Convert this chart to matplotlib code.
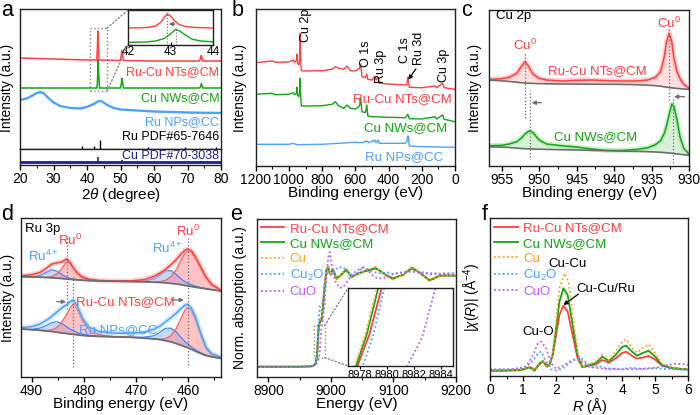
import numpy as np
import matplotlib
matplotlib.use("Agg")
import matplotlib.pyplot as plt
from matplotlib.ticker import MultipleLocator
from matplotlib.patches import Rectangle, ConnectionPatch

plt.rcParams['font.family'] = ['Liberation Sans', 'DejaVu Sans']
plt.rcParams['mathtext.fontset'] = 'custom'
plt.rcParams['mathtext.rm'] = 'Liberation Sans'
plt.rcParams['mathtext.it'] = 'Liberation Sans:italic'
plt.rcParams['mathtext.bf'] = 'Liberation Sans:bold'
plt.rcParams['axes.linewidth'] = 1.0
plt.rcParams['axes.edgecolor'] = '#222222'

RED = '#ff4040'
GREEN = '#14a514'
BLUE = '#4ba3ff'
NAVY = '#1f1f8f'
ORANGE = '#ffa31a'
PURPLE = '#c05cff'
GRAY = '#6e6e6e'
FS = 9.5  # annotation text

# ---------------- a: XRD ----------------
xrd_red_x = [20, 25, 30, 35, 40, 42.9, 43.1, 43.25, 43.4, 43.6, 49.9, 50.2, 50.4, 50.6, 50.9, 60, 73.6, 73.9, 74.1, 74.3, 74.6, 80]
xrd_red_y = [91, 90.5, 90, 89.5, 89, 89, 101, 118, 101, 89, 88.5, 93, 98.5, 93, 88.5, 88, 88, 91, 93.5, 91, 88, 88]
xrd_green_x = [20, 30, 40, 43.0, 43.2, 43.35, 43.5, 43.75, 50.0, 50.3, 50.45, 50.6, 50.9, 60, 73.7, 74.0, 74.15, 74.3, 74.6, 80]
xrd_green_y = [61, 61, 61, 61, 74, 89.5, 74, 61, 61, 67, 70.5, 67, 61, 61, 61, 63.5, 65.5, 63.5, 61, 61]
xrd_blue_x = [20, 22, 24, 25, 26, 27, 28, 30, 32, 35, 38, 40, 42, 43.5, 44.5, 46, 48, 50, 55, 60, 70, 80]
xrd_blue_y = [49, 50.5, 54, 56, 57, 56, 52.5, 46.5, 43, 41, 40.5, 42, 45, 48, 47.5, 44, 41, 39.5, 38.5, 37.5, 36.5, 36]
ru_pdf_pos = [38.4, 42.2, 44.0, 58.3, 69.4, 78.4]
ru_pdf_h = [3, 3, 8.5, 1.5, 1.5, 1.5]
cu_pdf_pos = [43.3, 50.4, 74.1]
cu_pdf_h = [5, 2, 1.5]
cu_pdf_base = 3
ins_red_x = [42.0, 42.3, 42.5, 42.65, 42.78, 42.86, 42.92, 43.0, 43.1, 43.2, 43.35, 43.6, 44.0]
ins_red_y = [17, 17.2, 17.8, 19, 23, 28, 31, 29, 24, 20.5, 18.5, 17.5, 17]
ins_green_x = [42.0, 42.4, 42.65, 42.85, 43.0, 43.12, 43.22, 43.35, 43.5, 43.7, 44.0]
ins_green_y = [2.7, 3, 4, 6.5, 11, 15.7, 14, 10, 6, 4, 3.2]

# ---------------- b: XPS survey ----------------
sv_red_e = [1200, 1100, 1080, 1000, 975, 965, 955, 952, 948, 940, 934, 932, 930, 925, 900, 800, 740, 720, 700, 670, 650, 630,
            600, 575, 568, 560, 540, 531, 525, 500, 484, 475, 462, 455, 400, 300, 290, 284, 280, 275, 200, 120, 110, 75, 65, 0]
sv_red_i = [103.0, 104.7, 103.4, 103.7, 105.7, 103.4, 105.7, 111.7, 102.4, 100.7, 109.0, 132.4, 105.7, 95.0, 94.7, 95.0, 96.4,
            99.0, 97.4, 96.4, 99.7, 95.0, 94.7, 97.4, 101.7, 89.0, 88.0, 91.7, 86.4, 85.7, 89.0, 85.7, 88.4, 82.4, 81.7, 80.7,
            80.7, 88.4, 85.7, 78.4, 78.0, 79.7, 78.0, 82.4, 78.0, 76.4]
sv_green_e = [1200, 1100, 1080, 1000, 975, 965, 955, 952, 948, 940, 934, 932, 930, 925, 900, 800, 740, 720, 700, 670, 650, 630,
              600, 575, 568, 560, 540, 531, 525, 500, 400, 300, 284, 275, 200, 120, 110, 75, 65, 0]
sv_green_i = [71.4, 72.4, 71.0, 71.4, 73.0, 71.0, 72.4, 78.4, 70.7, 69.0, 75.7, 87.4, 72.4, 59.7, 59.7, 60.0, 61.4, 64.0, 59.7,
              57.4, 60.7, 57.4, 56.7, 59.7, 67.4, 54.0, 53.0, 60.7, 49.7, 49.0, 48.4, 48.0, 51.4, 47.0, 46.7, 49.0, 46.7, 50.7,
              46.4, 44.0]
sv_blue_e = [1200, 1000, 975, 950, 800, 700, 600, 560, 531, 520, 484, 475, 462, 455, 300, 290, 284, 280, 275, 200, 0]
sv_blue_i = [21.4, 21.4, 22.4, 21.0, 21.4, 22.4, 23.4, 23.0, 24.7, 23.0, 25.7, 23.0, 25.7, 22.4, 22.4, 24.0, 29.7, 28.4, 19.7,
             19.0, 18.4]

# ---------------- c: Cu 2p ----------------
cu_e = [956.6, 955, 954, 953, 952.4, 951.9, 951.5, 951.2, 950.8, 950, 949, 947, 945, 943, 941, 939, 937, 935.5, 934.5, 933.8,
        933.3, 933.0, 932.65, 932.3, 932.0, 931.6, 931.2, 930.7, 930.0]
cu_red = [86.4, 87.0, 88.4, 92.4, 99.0, 104.0, 100.5, 96.5, 91.5, 87.4, 85.7, 84.7, 85.4, 85.7, 85.0, 84.7, 84.7, 85.7, 88.4,
          94.0, 109.0, 124.0, 132.4, 124.0, 107.4, 94.0, 87.0, 81.5, 77.4]
cu_red_bg = [85.7, 84.9, 84.2, 83.5, 83.0, 82.7, 82.5, 82.4, 82.3, 82.1, 81.9, 81.7, 81.6, 81.5, 81.4, 81.3, 81.0, 80.5, 80.0,
             79.5, 78.9, 78.5, 78.2, 77.9, 77.6, 77.3, 77.0, 76.7, 76.4]
cu_green = [20.0, 20.4, 21.7, 24.0, 27.5, 31.5, 34.0, 35.0, 33.0, 25.7, 21.7, 20.0, 18.7, 16.7, 15.3, 15.2, 16.2, 18.0, 21.0,
            25.0, 32.4, 40.0, 51.0, 61.5, 59.0, 46.0, 29.0, 17.4, 11.7]
cu_green_bg = [19.0, 18.6, 18.2, 17.6, 17.2, 17.0, 16.9, 16.8, 16.7, 16.5, 16.3, 16.0, 15.7, 15.3, 15.0, 14.6, 14.3, 14.0, 13.7,
               13.4, 13.1, 12.9, 12.6, 12.4, 12.1, 11.8, 11.4, 11.0, 10.4]
cu0_red = [951.9, 932.65]
cu0_green = [951.2, 932.2]

# ---------------- d: Ru 3p ----------------
ru_e = [492, 490, 488.5, 487.3, 486.2, 485.2, 484.3, 483.3, 482.6, 482.0, 481.2, 480.2, 479, 477, 474, 471, 468.5, 466.5,
        465.3, 464.3, 463.3, 462.3, 461.4, 460.6, 460.1, 459.4, 458.6, 457.6, 456.6, 455.5, 453.7]
up_data = [101.0, 102.0, 104.0, 108.0, 112.5, 114.0, 114.5, 117.7, 114.0, 109.0, 103.5, 99.5, 97.5, 96.2, 95.8, 95.8, 97.0,
           100.5, 104.0, 107.5, 112.0, 117.0, 122.5, 126.5, 127.7, 126.0, 120.0, 110.0, 100.0, 92.5, 86.5]
up_bg = [100.0, 99.8, 99.5, 99.2, 98.9, 98.6, 98.2, 97.7, 97.4, 97.1, 96.8, 96.4, 96.1, 95.8, 95.5, 95.2, 94.9, 94.5, 94.2,
         93.8, 93.3, 92.7, 92.0, 91.3, 90.8, 90.2, 89.5, 88.7, 87.9, 87.0, 85.7]
up_ru0 = [100.0, 99.8, 99.5, 99.3, 100.0, 102.5, 107.5, 115.5, 113.0, 108.5, 103.0, 99.0, 97.0, 96.0, 95.5, 95.2, 94.9, 94.6,
          95.0, 96.5, 100.0, 107.0, 116.0, 123.5, 126.0, 124.5, 118.5, 108.5, 98.5, 91.5, 86.0]
up_ru4 = [100.0, 100.0, 101.0, 104.0, 107.0, 105.5, 102.5, 99.5, 98.3, 97.6, 97.1, 96.6, 96.2, 95.9, 95.6, 95.3, 95.5, 98.0,
          102.0, 106.0, 106.0, 102.5, 98.0, 95.0, 93.5, 92.0, 90.5, 89.2, 88.2, 87.2, 85.8]
lo_data = [49.0, 50.0, 52.4, 56.0, 60.0, 64.5, 68.5, 72.0, 75.0, 76.7, 70.0, 58.0, 49.5, 45.0, 43.6, 43.4, 44.5, 47.5, 51.0,
           55.0, 59.0, 63.5, 68.0, 71.5, 72.4, 69.0, 60.0, 44.0, 30.0, 23.0, 19.5]
lo_bg = [47.7, 47.0, 46.4, 45.8, 45.2, 44.5, 43.8, 43.2, 42.7, 42.3, 41.8, 41.2, 40.7, 40.2, 39.8, 39.4, 38.6, 37.8, 37.0,
         36.0, 34.8, 33.2, 31.5, 30.0, 29.0, 27.5, 25.5, 23.2, 21.2, 19.8, 18.4]
lo_ru0 = [47.7, 47.0, 46.5, 46.2, 46.8, 49.0, 54.0, 62.0, 69.0, 73.0, 67.0, 55.5, 47.0, 42.0, 40.0, 39.4, 38.6, 37.9, 37.5,
          38.0, 41.0, 48.0, 58.0, 66.5, 69.5, 66.5, 57.5, 42.0, 28.5, 21.5, 18.8]
lo_ru4 = [47.7, 47.5, 48.5, 51.0, 54.0, 55.0, 53.5, 50.0, 47.5, 46.0, 44.0, 42.5, 41.5, 40.6, 40.0, 39.6, 39.5, 41.0, 45.0,
          48.5, 48.5, 45.0, 39.5, 35.0, 33.0, 30.0, 27.0, 24.0, 21.8, 20.2, 18.6]
ru0_up = [483.3, 460.1]
ru0_lo = [482.0, 460.1]

# ---------------- e: XANES ----------------
xa_red_e = [8880, 8950, 8970, 8974, 8976, 8977, 8977.8, 8978.7, 8979.6, 8981, 8983, 8985, 8987.6, 8990.3, 8993, 8995.6, 8998.2,
            9003.6, 9008.9, 9016, 9024.8, 9032.8, 9040.7, 9051.4, 9060, 9071, 9080, 9088.5, 9099.2, 9107, 9115, 9122, 9130,
            9139, 9147, 9157.6, 9165, 9173.5, 9185, 9200]
xa_red_n = [0, 0, 0.005, 0.02, 0.05, 0.08, 0.12, 0.21, 0.34, 0.45, 0.49, 0.51, 0.67, 0.89, 1.05, 1.08, 1.018, 1.055, 0.964,
            1.0, 1.055, 0.982, 1.007, 1.036, 1.05, 1.073, 1.04, 1.0, 0.964, 0.985, 1.0, 1.04, 1.073, 1.04, 1.0, 0.945, 0.965,
            0.993, 0.995, 0.993]
xa_green_e = [8880, 8950, 8970, 8974, 8976, 8976.9, 8977.7, 8978.5, 8979.35, 8980.8, 8982.8, 8985, 8987.5, 8990.2, 8993, 8995.6,
              8998.2, 9003.6, 9008.9, 9016, 9024.8, 9032.8, 9040.7, 9051.4, 9060, 9071, 9080, 9088.5, 9099.2, 9107, 9115, 9122,
              9130, 9139, 9147, 9157.6, 9165, 9173.5, 9185, 9200]
xa_green_n = [0, 0, 0.005, 0.02, 0.05, 0.08, 0.12, 0.21, 0.34, 0.46, 0.5, 0.52, 0.68, 0.9, 1.06, 1.09, 1.015, 1.06, 0.958, 1.0,
              1.06, 0.978, 1.005, 1.038, 1.052, 1.078, 1.04, 0.997, 0.958, 0.982, 1.0, 1.042, 1.078, 1.04, 0.998, 0.94, 0.962,
              0.993, 0.995, 0.993]
xa_cu_e = [8880, 8950, 8970, 8974, 8976, 8976.8, 8977.6, 8978.4, 8979.25, 8980.7, 8982.7, 8985, 8987.4, 8990.1, 8993, 8995.6,
           8998.2, 9003.6, 9008.9, 9016, 9024.8, 9032.8, 9040.7, 9051.4, 9060, 9071, 9080, 9088.5, 9099.2, 9107, 9115, 9122,
           9130, 9139, 9147, 9157.6, 9165, 9173.5, 9185, 9200]
xa_cu_n = [0, 0, 0.005, 0.02, 0.05, 0.08, 0.12, 0.21, 0.34, 0.47, 0.52, 0.54, 0.7, 0.92, 1.07, 1.1, 1.01, 1.07, 0.95, 1.0,
           1.08, 0.97, 1.0, 1.04, 1.06, 1.09, 1.04, 0.99, 0.95, 0.98, 1.0, 1.05, 1.09, 1.04, 0.995, 0.935, 0.96, 0.993, 0.995,
           0.993]
xa_cu2o_e = [8880, 8950, 8970, 8975, 8977, 8978.2, 8979.0, 8979.8, 8981, 8982.5, 8984, 8986, 8988, 8990, 8993, 8996, 9000, 9005,
             9012, 9020, 9028, 9036, 9044, 9051, 9060, 9070, 9080, 9090, 9100, 9115, 9130, 9145, 9160, 9180, 9200]
xa_cu2o_n = [0, 0, 0.005, 0.03, 0.07, 0.12, 0.21, 0.34, 0.55, 0.66, 0.67, 0.68, 0.74, 0.86, 1.0, 1.05, 1.0, 1.03, 1.09, 1.08,
             1.02, 0.99, 1.03, 1.09, 1.06, 1.03, 1.02, 1.03, 1.01, 1.03, 1.04, 1.02, 1.01, 1.02, 1.02]
xa_cuo_e = [8880, 8950, 8970, 8976, 8979, 8981.5, 8982.6, 8983.6, 8985, 8987, 8990, 8993, 8996, 8998, 9000, 9003, 9008, 9014,
            9020, 9026, 9033, 9042, 9050, 9058, 9066, 9075, 9085, 9095, 9105, 9115, 9130, 9145, 9160, 9180, 9200]
xa_cuo_n = [0, 0, 0.005, 0.02, 0.06, 0.12, 0.2, 0.34, 0.42, 0.5, 0.7, 1.0, 1.2, 1.25, 1.18, 1.02, 0.92, 0.86, 0.87, 0.93, 1.0,
            1.05, 1.08, 1.06, 1.0, 0.96, 0.97, 1.0, 1.02, 1.03, 1.04, 1.03, 1.02, 1.01, 1.01]

# ---------------- f: FT-EXAFS ----------------
ft_r = [0, 0.5, 0.9, 1.05, 1.2, 1.35, 1.5, 1.6, 1.72, 1.8, 1.9, 2.0, 2.1, 2.22, 2.35, 2.5, 2.65, 2.8, 3.0, 3.2, 3.4, 3.6, 3.8,
        4.0, 4.12, 4.3, 4.45, 4.6, 4.8, 5.0, 5.2, 5.5, 5.8, 6.0]
ft_red = [5.3, 5.7, 6.3, 7.0, 9.0, 6.7, 11.7, 14.3, 11.0, 11.7, 21.0, 41.0, 61.0, 70.3, 64.3, 41.0, 17.7, 8.7, 10.3, 11.7, 16.0,
          13.3, 17.7, 23.0, 24.3, 20.0, 17.3, 18.3, 20.0, 16.3, 10.3, 7.7, 6.7, 6.7]
ft_green = [5.3, 5.3, 5.7, 7.0, 8.7, 5.3, 12.7, 15.0, 9.3, 10.3, 22.7, 47.7, 74.3, 87.7, 81.0, 51.0, 21.0, 9.0, 11.0, 13.0,
            19.3, 15.0, 21.0, 29.0, 30.3, 24.3, 20.3, 22.7, 25.3, 19.3, 11.0, 8.3, 7.0, 6.7]
ft_cu_r = [0, 0.9, 1.05, 1.2, 1.35, 1.5, 1.6, 1.72, 1.8, 1.9, 2.0, 2.1, 2.25, 2.38, 2.5, 2.65, 2.8, 3.0, 3.2, 3.4, 3.6, 3.8,
           4.0, 4.12, 4.3, 4.45, 4.6, 4.8, 5.0, 5.2, 5.5, 5.8, 6.0]
ft_cu = [5.7, 6.0, 7.7, 9.3, 6.0, 13.3, 15.7, 9.3, 11.0, 24.3, 54.3, 87.7, 102.7, 94.3, 61.0, 24.3, 8.7, 11.7, 14.3, 21.0, 16.0,
         24.3, 34.3, 36.7, 28.3, 23.3, 27.7, 31.7, 22.7, 12.7, 8.3, 7.0, 6.7]
ft_cu2o_r = [0, 0.5, 0.9, 1.1, 1.3, 1.45, 1.55, 1.7, 1.85, 2.0, 2.2, 2.4, 2.6, 2.75, 2.9, 3.1, 3.3, 3.5, 4.0, 4.3, 4.6, 5.0, 5.5, 6.0]
ft_cu2o = [6.7, 6.3, 7.7, 9.3, 15.0, 22.7, 24.3, 14.3, 6.7, 5.3, 7.7, 12.7, 17.0, 18.3, 13.7, 8.7, 10.0, 7.7, 6.7, 8.3, 7.0, 7.7,
           6.7, 6.0]
ft_cuo_r = [0, 0.5, 0.9, 1.1, 1.3, 1.45, 1.55, 1.7, 1.85, 2.0, 2.2, 2.4, 2.6, 2.8, 3.0, 3.3, 3.6, 4.0, 4.5, 5.0, 5.3, 5.6, 5.9, 6.0]
ft_cuo = [6.3, 6.7, 7.7, 9.7, 21.0, 32.7, 34.3, 27.7, 12.7, 7.0, 10.3, 14.3, 17.0, 14.3, 9.3, 7.7, 7.0, 6.7, 7.0, 8.3, 10.3, 12.3,
          11.7, 11.0]

W, H = 700, 415
fig = plt.figure(figsize=(W / 100, H / 100), dpi=100)


def add_ax(l, t, r, b):
    return fig.add_axes([l / W, 1 - b / H, (r - l) / W, (b - t) / H])


def setup(ax, xlim, major, minor, xlabel=None, ylabel=None, labelpad=4):
    ax.set_xlim(*xlim)
    ax.set_yticks([])
    ax.xaxis.set_major_locator(MultipleLocator(major))
    ax.xaxis.set_minor_locator(MultipleLocator(minor))
    ax.tick_params(axis='x', which='major', direction='out', length=3.5, width=1, labelsize=10, pad=1.5)
    ax.tick_params(axis='x', which='minor', direction='out', length=2, width=0.8)
    if xlabel:
        ax.set_xlabel(xlabel, fontsize=11, labelpad=-0.5)
    if ylabel:
        ax.set_ylabel(ylabel, fontsize=10, labelpad=labelpad)


def arrow(ax, start, end, color=GRAY):
    ax.annotate('', xy=end, xytext=start,
                arrowprops=dict(arrowstyle='-|>', color=color, lw=0.9, mutation_scale=6, shrinkA=0, shrinkB=0))


def halo(ax, x, y, light, dark, lw=1.1):
    ax.plot(x, y, color=light, lw=3.6, alpha=0.45, solid_capstyle='round')
    ax.plot(x, y, color=dark, lw=lw)


dots = (0, (1, 1.4))

# ===== panel a =====
ax_a = add_ax(20, 9.3, 221, 149)
ax_a2 = add_ax(20, 149, 221, 165.5)
ax_a.set_xlim(20, 80)
ax_a.set_ylim(0, 139.7)
ax_a.set_yticks([])
ax_a.tick_params(bottom=False, labelbottom=False)
ax_a.plot(xrd_blue_x, xrd_blue_y, color=BLUE, lw=1.7)
ax_a.plot(xrd_green_x, xrd_green_y, color=GREEN, lw=1.1)
ax_a.plot(xrd_red_x, xrd_red_y, color=RED, lw=1.1)
ax_a.vlines(ru_pdf_pos, 0, ru_pdf_h, color='black', lw=1)
ax_a.text(79.5, 77, 'Ru-Cu NTs@CM', color=RED, ha='right', va='center', fontsize=9)
ax_a.text(79.5, 51, 'Cu NWs@CM', color=GREEN, ha='right', va='center', fontsize=9)
ax_a.text(79.5, 27, 'Ru NPs@CC', color=BLUE, ha='right', va='center', fontsize=9)
ax_a.text(79.5, 12, 'Ru PDF#65-7646', color='black', ha='right', va='center', fontsize=9)
ax_a.add_patch(Rectangle((41, 58), 5, 63, fill=False, ls=':', ec='#888888', lw=1))
ax_a.set_ylabel('Intensity (a.u.)', fontsize=10)
ax_a.yaxis.set_label_coords(-0.03, 0.44)

setup(ax_a2, (20, 80), 10, 5, r'2$\theta$ (degree)')
ax_a2.set_ylim(0, 16.5)
ax_a2.axhline(cu_pdf_base, color=NAVY, lw=2)
ax_a2.vlines(cu_pdf_pos, cu_pdf_base, np.array(cu_pdf_h) + cu_pdf_base, color=NAVY, lw=1.2)
ax_a2.text(79.5, 9.5, 'Cu PDF#70-3038', color=NAVY, ha='right', va='center', fontsize=9)

ax_ai = add_ax(128, 10, 213, 45)
ax_ai.plot(ins_red_x, ins_red_y, color=RED, lw=1)
ax_ai.plot(ins_green_x, ins_green_y, color=GREEN, lw=1)
ax_ai.set_xlim(42, 44)
ax_ai.set_ylim(0, 35)
ax_ai.set_yticks([])
ax_ai.set_xticks([42, 43, 44])
ax_ai.tick_params(axis='x', direction='in', length=2, labelsize=8.5, pad=1)
ax_ai.vlines([42.92], 0, 33, color=GRAY, ls=':', lw=0.8)
ax_ai.vlines([43.12], 0, 18, color=GRAY, ls=':', lw=0.8)
arrow(ax_ai, (43.1, 21), (42.96, 21))
for xyA, xyB in [((46, 121), (0, 1)), ((46, 58), (0, 0))]:
    fig.add_artist(ConnectionPatch(xyA=xyA, coordsA=ax_a.transData, xyB=xyB, coordsB=ax_ai.transAxes,
                                   ls=':', color='#888888', lw=1))

# ===== panel b =====
ax_b = add_ax(255.7, 9.3, 455, 165.7)
setup(ax_b, (1200, 0), 200, 100, 'Binding energy (eV)', 'Intensity (a.u.)', labelpad=6)
ax_b.set_ylim(0, 156.4)
ax_b.plot(sv_blue_e, sv_blue_i, color=BLUE, lw=1)
ax_b.plot(sv_green_e, sv_green_i, color=GREEN, lw=1)
ax_b.plot(sv_red_e, sv_red_i, color=RED, lw=1)
for e, y, s in [(898, 124, 'Cu 2p'), (536, 99, 'O 1s'), (446, 83, 'Ru 3p'), (302, 102.4, 'C 1s'),
                (214, 100.7, 'Ru 3d'), (66, 84, 'Cu 3p')]:
    ax_b.text(e, y, s, rotation=90, ha='center', va='bottom', fontsize=9)
arrow(ax_b, (236, 96.7), (281, 86), color='black')
ax_b.text(18, 66.7, 'Ru-Cu NTs@CM', color=RED, ha='right', va='center', fontsize=FS)
ax_b.text(48, 38, 'Cu NWs@CM', color=GREEN, ha='right', va='center', fontsize=FS)
ax_b.text(72, 9, 'Ru NPs@CC', color=BLUE, ha='right', va='center', fontsize=FS)

# ===== panel c =====
ax_c = add_ax(489.3, 10, 689, 165.7)
setup(ax_c, (956.65, 930), 5, 2.5, 'Binding energy (eV)', 'Intensity (a.u.)', labelpad=5)
ax_c.set_ylim(0, 155.7)
ax_c.fill_between(cu_e, cu_red_bg, cu_red, color='#ff8080', alpha=0.25, lw=0)
ax_c.fill_between(cu_e, cu_green_bg, cu_green, color='#40c040', alpha=0.2, lw=0)
halo(ax_c, cu_e, cu_red, '#ff9a9a', RED)
halo(ax_c, cu_e, cu_green, '#8fdc8f', GREEN)
ax_c.plot(cu_e, cu_red_bg, color=GRAY, lw=1.2)
ax_c.plot(cu_e, cu_green_bg, color=GRAY, lw=1.2)
ax_c.vlines(cu0_red, [47.7, 65.7], [112.7, 137.7], color=GRAY, ls=':', lw=0.9)
ax_c.vlines(cu0_green, [9, 2.7], [75.7, 69], color=GRAY, ls=':', lw=0.9)
arrow(ax_c, (949.7, 63), (951.0, 63))
arrow(ax_c, (930.6, 69), (932.0, 69))
ax_c.text(955.8, 149.7, 'Cu 2p', ha='left', va='center', fontsize=FS)
ax_c.text(cu0_red[0], 120.7, 'Cu$^0$', color=RED, ha='center', va='center', fontsize=FS)
ax_c.text(cu0_red[1], 142.7, 'Cu$^0$', color=RED, ha='center', va='center', fontsize=FS)
ax_c.text(942.2, 94.7, 'Ru-Cu NTs@CM', color=RED, ha='center', va='center', fontsize=FS)
ax_c.text(942.4, 28.4, 'Cu NWs@CM', color=GREEN, ha='center', va='center', fontsize=FS)

# ===== panel d =====
ax_d = add_ax(20.7, 218.3, 221, 376.7)
setup(ax_d, (492.1, 453.7), 10, 5, 'Binding energy (eV)', 'Intensity (a.u.)', labelpad=4)
ax_d.set_ylim(0, 158.4)
for data, bg, ru0, ru4, light, dark in [(up_data, up_bg, up_ru0, up_ru4, '#ff9a9a', RED),
                                        (lo_data, lo_bg, lo_ru0, lo_ru4, '#9ccbff', BLUE)]:
    ax_d.fill_between(ru_e, bg, ru4, color='#7aaeff', alpha=0.45, lw=0)
    ax_d.fill_between(ru_e, bg, ru0, color='#ff7a7a', alpha=0.45, lw=0)
    ax_d.plot(ru_e, ru4, color='#3d8bff', lw=0.9)
    ax_d.plot(ru_e, ru0, color='#ff5a5a', lw=0.9)
    halo(ax_d, ru_e, data, light, dark)
    ax_d.plot(ru_e, bg, color=GRAY, lw=1.3)
ax_d.vlines(ru0_up, [68, 12], [139, 141], color=GRAY, ls=':', lw=0.9)
ax_d.vlines(ru0_lo[:1], 10, 100, color=GRAY, ls=':', lw=0.9)
arrow(ax_d, (485.2, 75), (483.4, 75))
arrow(ax_d, (463.1, 76.7), (460.8, 76.7))
ax_d.text(491.3, 147.7, 'Ru 3p', ha='left', va='center', fontsize=FS)
ax_d.text(482.7, 136.7, 'Ru$^0$', color=RED, ha='center', va='center', fontsize=FS)
ax_d.text(487.8, 120, 'Ru$^{4+}$', color=BLUE, ha='center', va='center', fontsize=FS)
ax_d.text(460.0, 145, 'Ru$^0$', color=RED, ha='center', va='center', fontsize=FS)
ax_d.text(464.0, 128.4, 'Ru$^{4+}$', color=BLUE, ha='center', va='center', fontsize=FS)
ax_d.text(472.1, 75, 'Ru-Cu NTs@CM', color=RED, ha='center', va='center', fontsize=FS)
ax_d.text(473.5, 46.5, 'Ru NPs@CC', color=BLUE, ha='center', va='center', fontsize=FS)

# ===== panel e =====
ax_e = add_ax(256.7, 218.7, 456, 376.7)
setup(ax_e, (8881.4, 9200), 100, 50, 'Energy (eV)', 'Norm. absorption (a.u.)', labelpad=7)
ax_e.set_ylim(-0.109, 1.615)
xa_sets = [(xa_red_e, xa_red_n, RED, '-', 'Ru-Cu NTs@CM'), (xa_green_e, xa_green_n, GREEN, '-', 'Cu NWs@CM'),
           (xa_cu_e, xa_cu_n, ORANGE, dots, 'Cu'), (xa_cu2o_e, xa_cu2o_n, BLUE, dots, 'Cu$_2$O'),
           (xa_cuo_e, xa_cuo_n, PURPLE, dots, 'CuO')]
for x, y, c, ls, lab in xa_sets:
    ax_e.plot(x, y, color=c, ls=ls, lw=1.3, label=lab)
ax_e.legend(loc='upper left', frameon=False, fontsize=FS, labelcolor='linecolor', handlelength=1.8,
            handletextpad=0.4, labelspacing=0.22, borderaxespad=0.2, borderpad=0.1)
ax_e.add_patch(Rectangle((8973, 0.1), 17, 0.35, fill=False, ls=':', ec='#888888', lw=1))
ax_ei = add_ax(348, 288, 453, 366)
for x, y, c, ls, lab in xa_sets:
    ax_ei.plot(x, y, color=c, ls=ls, lw=1.3)
ax_ei.set_xlim(8977.1, 8984.9)
ax_ei.set_ylim(0.12, 0.34)
ax_ei.set_yticks([])
ax_ei.xaxis.set_major_locator(MultipleLocator(2))
ax_ei.tick_params(axis='x', direction='out', length=2, labelsize=8, pad=1)
for xyA, xyB in [((8990, 0.45), (0, 1)), ((8990, 0.1), (0, 0))]:
    fig.add_artist(ConnectionPatch(xyA=xyA, coordsA=ax_e.transData, xyB=xyB, coordsB=ax_ei.transAxes,
                                   ls=':', color='#888888', lw=1))

# ===== panel f =====
ax_f = add_ax(490, 218.3, 688.3, 376)
setup(ax_f, (0, 6), 1, 0.5, None, r'|$\chi$($R$)| (Å$^{-4}$)', labelpad=5)
ax_f.set_xlabel(r'$R$ (Å)', fontsize=10.5, labelpad=-1)
ax_f.set_ylim(0, 157.7)
ax_f.plot(ft_r, ft_red, color=RED, lw=1.3, label='Ru-Cu NTs@CM')
ax_f.plot(ft_r, ft_green, color=GREEN, lw=1.3, label='Cu NWs@CM')
ax_f.plot(ft_cu_r, ft_cu, color=ORANGE, ls=dots, lw=1.3, label='Cu')
ax_f.plot(ft_cu2o_r, ft_cu2o, color=BLUE, ls=dots, lw=1.3, label='Cu$_2$O')
ax_f.plot(ft_cuo_r, ft_cuo, color=PURPLE, ls=dots, lw=1.3, label='CuO')
ax_f.legend(loc='upper left', frameon=False, fontsize=FS, labelcolor='linecolor', handlelength=1.8,
            handletextpad=0.4, labelspacing=0.22, borderaxespad=0.2, borderpad=0.1)
ax_f.text(2.35, 111.7, 'Cu-Cu', ha='center', va='center', fontsize=FS)
ax_f.text(3.5, 87, 'Cu-Cu/Ru', ha='center', va='center', fontsize=FS)
ax_f.text(1.46, 44.3, 'Cu-O', ha='center', va='center', fontsize=FS)
arrow(ax_f, (2.68, 82), (2.22, 71), color='black')

# ===== panel letters =====
for x, y, s in [(1.5, 0.5, 'a'), (231.5, 0.5, 'b'), (461.5, 0.5, 'c'),
                (1.5, 204, 'd'), (230, 204, 'e'), (482, 204, 'f')]:
    fig.text(x / W, 1 - y / H, s, fontsize=15.5, va='top', ha='left')

fig.savefig('out.png', dpi=100)
